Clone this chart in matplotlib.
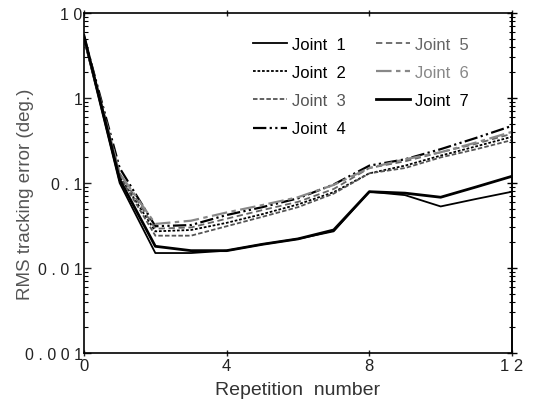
import numpy as np
import matplotlib
matplotlib.use('Agg')
import matplotlib.pyplot as plt
from matplotlib.ticker import FixedLocator, FixedFormatter, LogLocator, NullFormatter

plt.rcParams['font.family'] = ['Liberation Sans', 'DejaVu Sans']

# RMS tracking error per repetition for each joint (deg.)
reps = np.arange(13)
joint1 = [5.0, 0.10, 0.015, 0.015, 0.016, 0.019, 0.022, 0.027, 0.079, 0.072, 0.053, 0.065, 0.079]
joint2 = [5.1, 0.12, 0.027, 0.028, 0.034, 0.043, 0.056, 0.078, 0.13, 0.16, 0.21, 0.27, 0.35]
joint3 = [4.9, 0.12, 0.024, 0.024, 0.031, 0.040, 0.052, 0.075, 0.13, 0.15, 0.20, 0.25, 0.32]
joint4 = [5.3, 0.15, 0.031, 0.032, 0.042, 0.052, 0.066, 0.096, 0.16, 0.19, 0.25, 0.34, 0.47]
joint5 = [5.0, 0.13, 0.029, 0.030, 0.038, 0.048, 0.060, 0.085, 0.15, 0.18, 0.23, 0.29, 0.38]
joint6 = [5.2, 0.13, 0.033, 0.036, 0.045, 0.055, 0.068, 0.095, 0.15, 0.19, 0.23, 0.30, 0.40]
joint7 = [5.4, 0.11, 0.018, 0.016, 0.016, 0.019, 0.022, 0.028, 0.079, 0.076, 0.068, 0.090, 0.12]

series = [
    ('Joint  1', joint1, dict(color='black', lw=1.3, ls='-')),
    ('Joint  2', joint2, dict(color='black', lw=1.3, ls=(0, (1.5, 1.0)))),
    ('Joint  3', joint3, dict(color='#555555', lw=1.3, ls=(0, (2.5, 1.2)))),
    ('Joint  4', joint4, dict(color='black', lw=1.6, ls=(0, (6, 1.5, 1, 1.5, 1, 1.5)))),
    ('Joint  5', joint5, dict(color='#666666', lw=1.3, ls=(0, (3.5, 2)))),
    ('Joint  6', joint6, dict(color='#888888', lw=1.6, ls=(0, (7, 2, 2, 2)))),
    ('Joint  7', joint7, dict(color='black', lw=2.0, ls='-')),
]

y_ticks = [0.001, 0.01, 0.1, 1, 10]
y_labels = ['0 . 0 0 1', '0 . 0 1', '0 . 1', '1', '1 0']
x_ticks = [0, 4, 8, 12]
x_labels = ['0', '4', '8', '1 2']

fig = plt.figure(figsize=(5.35, 4.10), dpi=100)
ax = fig.add_axes([84 / 535, 1 - 354 / 410, (512 - 84) / 535, (354 - 14) / 410])

for label, vals, style in series:
    ax.plot(reps, vals, label=label, **style)

ax.set_yscale('log')
ax.set_ylim(0.001, 10)
ax.set_xlim(0, 12)

ax.yaxis.set_major_locator(FixedLocator(y_ticks))
ax.yaxis.set_major_formatter(FixedFormatter(y_labels))
ax.yaxis.set_minor_locator(LogLocator(base=10, subs=np.arange(2, 10)))
ax.yaxis.set_minor_formatter(NullFormatter())
ax.xaxis.set_major_locator(FixedLocator(x_ticks))
ax.xaxis.set_major_formatter(FixedFormatter(x_labels))

ax.tick_params(axis='y', which='major', direction='in', length=5, width=1,
               labelsize=11.5, pad=1, colors='#222222')
ax.tick_params(axis='y', which='minor', direction='in', length=3, width=0.8)
ax.tick_params(axis='x', which='major', direction='inout', length=5, width=1,
               labelsize=12, pad=1, colors='#222222', top=True)

# right-hand axis carries ticks on both sides of the spine
sec = ax.secondary_yaxis('right')
sec.set_yscale('log')
sec.yaxis.set_major_locator(FixedLocator(y_ticks))
sec.yaxis.set_minor_locator(LogLocator(base=10, subs=np.arange(2, 10)))
sec.yaxis.set_major_formatter(NullFormatter())
sec.yaxis.set_minor_formatter(NullFormatter())
sec.tick_params(which='major', direction='inout', length=7, width=1)
sec.tick_params(which='minor', direction='inout', length=5, width=0.8)
sec.spines['right'].set_linewidth(1.2)

for sp in ax.spines.values():
    sp.set_linewidth(1.2)

ax.set_xlabel('Repetition  number', fontsize=14, color='#333333', labelpad=6)
ax.set_ylabel('RMS tracking error (deg.)', fontsize=13.5, color='#555555')
ax.yaxis.set_label_coords(-0.117, 0.47)

leg = ax.legend(ncol=2, frameon=False, loc='upper right', bbox_to_anchor=(0.935, 0.975),
                fontsize=12, handlelength=2.05, handletextpad=0.3, columnspacing=1.8,
                labelspacing=0.8, labelcolor='linecolor')

fig.savefig('out.png', dpi=100, facecolor='white')
